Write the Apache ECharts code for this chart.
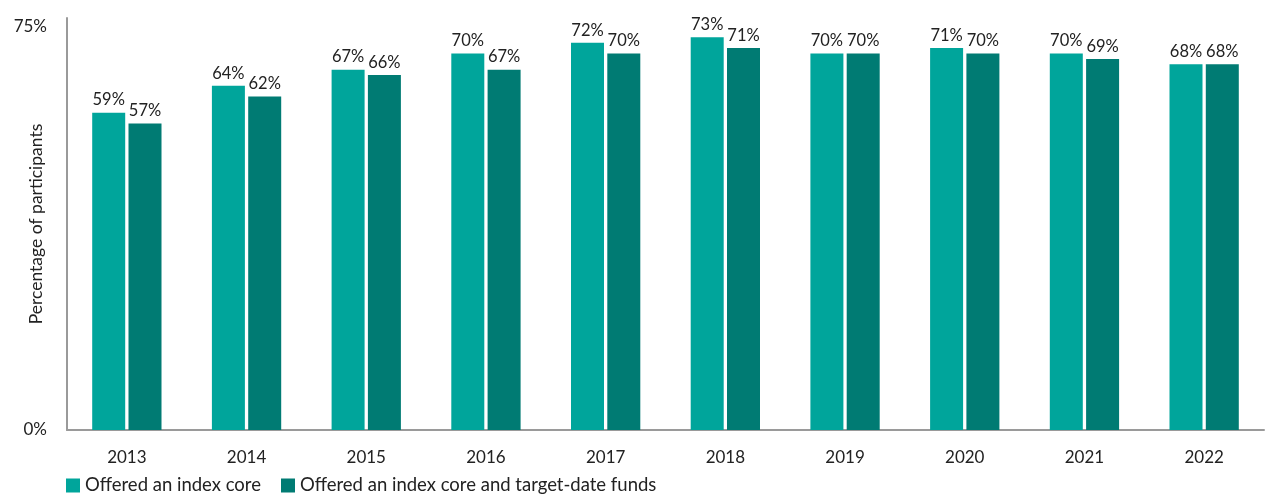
<!DOCTYPE html>
<html>
<head>
<meta charset="utf-8">
<script src="https://cdn.jsdelivr.net/npm/echarts@6/dist/echarts.min.js"></script>
<style>
  html, body { margin: 0; padding: 0; background: #fff; }
  #chart { width: 1272px; height: 502px; }
</style>
</head>
<body>
<div id="chart"></div>
<script>
// Participants in plans offering an index core, by year
const years = ['2013', '2014', '2015', '2016', '2017', '2018', '2019', '2020', '2021', '2022'];
const indexCore = [59, 64, 67, 70, 72, 73, 70, 71, 70, 68];
const indexCoreAndTdf = [57, 62, 66, 67, 70, 71, 70, 70, 69, 68];
const seriesNames = ['Offered an index core', 'Offered an index core and target-date funds'];
const yTickLabels = [0, 75];

const FONT = 'Lato, "Open Sans", sans-serif';
const TEXT = '#222222';

const chart = echarts.init(document.getElementById('chart'), null, { renderer: 'canvas' });

const labelStyle = {
  show: true,
  position: 'top',
  distance: 4,
  formatter: p => p.value + '%',
  color: TEXT,
  fontFamily: FONT,
  fontSize: 16.5
};

chart.setOption({
  animation: false,
  grid: { left: 67, right: 8, top: 18, bottom: 72, outerBoundsMode: 'none', containLabel: false },
  legend: {
    left: 61,
    bottom: 2,
    itemWidth: 14,
    itemHeight: 14,
    itemGap: 20,
    icon: 'rect',
    textStyle: { color: TEXT, fontFamily: FONT, fontSize: 18.5 },
    data: seriesNames
  },
  xAxis: {
    type: 'category',
    data: years,
    axisLine: { show: true, lineStyle: { color: '#9a9a9a', width: 2 } },
    axisTick: { show: false },
    axisLabel: { color: TEXT, fontFamily: FONT, fontSize: 17, margin: 19 }
  },
  yAxis: {
    type: 'value',
    min: 0,
    max: 76.6,
    interval: 75,
    name: 'Percentage of participants',
    nameLocation: 'middle',
    nameGap: 22,
    nameMoveOverlap: false,
    nameTextStyle: { color: TEXT, fontFamily: FONT, fontSize: 17.5 },
    axisLine: { show: true, lineStyle: { color: '#9a9a9a', width: 2 } },
    axisTick: { show: false },
    splitLine: { show: false },
    axisLabel: {
      color: TEXT,
      fontFamily: FONT,
      fontSize: 17,
      margin: 20,
      formatter: v => (yTickLabels.indexOf(v) >= 0 ? v + '%' : '')
    }
  },
  series: [
    {
      name: seriesNames[0],
      type: 'bar',
      data: indexCore,
      barWidth: 33,
      barGap: '10%',
      itemStyle: { color: '#00A59B' },
      label: labelStyle
    },
    {
      name: seriesNames[1],
      type: 'bar',
      data: indexCoreAndTdf,
      barWidth: 33,
      barGap: '10%',
      itemStyle: { color: '#007B73' },
      label: labelStyle
    }
  ]
});
</script>
</body>
</html>
